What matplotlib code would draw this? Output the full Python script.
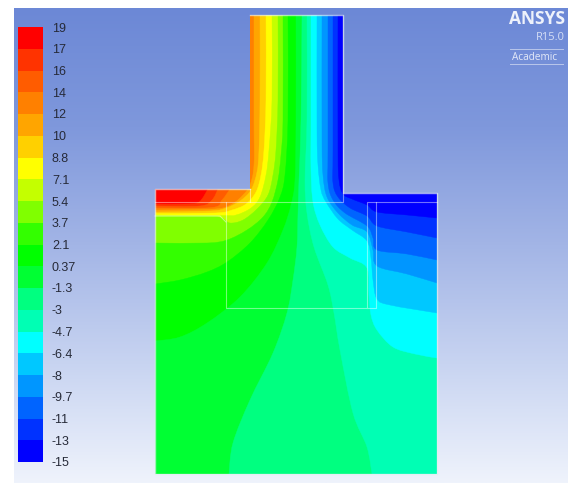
import numpy as np
import matplotlib
matplotlib.use('Agg')
import matplotlib.pyplot as plt
from matplotlib.colors import LinearSegmentedColormap
from matplotlib.path import Path
from matplotlib.patches import PathPatch

# legend
level_labels = ['19', '17', '16', '14', '12', '10', '8.8', '7.1', '5.4', '3.7', '2.1',
                '0.37', '-1.3', '-3', '-4.7', '-6.4', '-8', '-9.7', '-11', '-13', '-15']
band_colors = ['#ff0000', '#ff3300', '#ff5c00', '#ff8000', '#ffa500', '#ffd000', '#ffff00',
               '#c4ff00', '#80ff00', '#33ff00', '#00ff00', '#00ff33', '#00ff80', '#00ffb4',
               '#00ffff', '#00c8ff', '#0096ff', '#0064ff', '#0032ff', '#0000ff']
bg_colors = ['#6c88d6', '#7f98dc', '#a3b5e6', '#c8d4f1', '#eff3fc']

# domain outline, in picture pixels
domain_x = [249.5, 343, 343, 437, 437, 155, 155, 249.5]
domain_y = [15, 15, 193, 193, 474, 474, 189, 189]

# contour lines between neighbouring bands, hottest first
iso_0 = [(208, 189), (199, 202), (185, 204), (155, 204)]
iso_1 = [(218, 189), (212, 200), (200, 206), (155, 206)]
iso_2 = [(230, 189), (222, 200), (212, 207.5), (155, 208)]
iso_3 = [(254, 15), (254, 120), (254, 165), (250, 185), (243, 195), (232, 204), (215, 209), (155, 210)]
iso_4 = [(260, 15), (260, 100), (259, 150), (257, 172), (251, 190), (240, 201), (226, 208), (210, 211), (155, 212)]
iso_5 = [(266, 15), (266, 100), (264, 150), (261, 175), (256, 192), (246, 204), (232, 210), (215, 213), (155, 213.5)]
iso_6 = [(272, 15), (272, 100), (269, 150), (266, 175), (260, 197), (251, 208), (236, 215), (222, 215.5), (155, 215)]
iso_7 = [(278, 15), (278, 100), (276, 150), (273, 175), (268, 195), (257, 209), (243, 220), (230, 223), (222, 218), (210, 216.5), (155, 216.5)]
iso_8 = [(283, 15), (283, 120), (281, 155), (278, 180), (272, 202), (263, 217), (247, 230), (227, 240), (207, 243), (155, 243)]
iso_9 = [(288, 15), (288, 120), (285, 175), (280, 197), (268, 220), (250, 243), (227, 262), (207, 272), (180, 280), (155, 284)]
iso_10 = [(296, 15), (296, 120), (295, 180), (291, 205), (283, 230), (267, 263), (240, 297), (207, 323), (180, 337), (155, 341)]
iso_11 = [(302, 15), (301, 120), (299, 180), (298, 213), (297, 247), (293, 280), (287, 313), (273, 353), (250, 400), (233, 443), (229, 474)]
iso_12 = [(307, 15), (307, 120), (305, 180), (307, 213), (314, 247), (328, 285), (334, 313), (340, 350), (353, 413), (367, 447), (372, 474)]
iso_13 = [(311, 15), (311, 130), (311, 170), (313, 202), (320, 225), (333, 247), (350, 258), (367, 268), (369, 295), (371, 315), (377, 330), (393, 347), (415, 354), (437, 358)]
iso_14 = [(317, 15), (317, 130), (318, 165), (321, 190), (326, 202), (338, 219), (352, 230), (367, 241), (371, 258), (373, 280), (377, 299), (390, 305), (437, 313)]
iso_15 = [(322, 15), (322, 140), (323, 175), (327, 197), (338, 213), (352, 225), (367, 232), (373, 250), (377, 266), (407, 274), (437, 283)]
iso_16 = [(328, 15), (328, 150), (328, 183), (333, 200), (345, 213), (367, 226), (373, 238), (377, 250), (407, 254), (437, 260)]
iso_17 = [(333, 15), (333, 150), (333, 183), (338, 197), (350, 208), (367, 216), (377, 226), (407, 232), (437, 238)]
iso_18 = [(338, 15), (338, 150), (339, 180), (343, 194), (352, 199), (367, 205), (377, 212), (407, 215), (437, 218)]
iso_lines = [iso_0, iso_1, iso_2, iso_3, iso_4, iso_5, iso_6, iso_7, iso_8, iso_9,
             iso_10, iso_11, iso_12, iso_13, iso_14, iso_15, iso_16, iso_17, iso_18]


def smooth_path(pts):
    # catmull-rom through the points, as bezier segments
    pts = np.array(pts, dtype=float)
    verts = [pts[0]]
    codes = [Path.MOVETO]
    for i in range(len(pts) - 1):
        p0 = pts[max(i - 1, 0)]
        p1 = pts[i]
        p2 = pts[i + 1]
        p3 = pts[min(i + 2, len(pts) - 1)]
        verts += [p1 + (p2 - p0) / 6, p2 - (p3 - p1) / 6, p2]
        codes += [Path.CURVE4] * 3
    return verts, codes


def colder_side(pts):
    # region right of / below the line, closed far outside the domain
    verts, codes = smooth_path(pts)
    sx, sy = pts[0]
    ex, ey = pts[-1]
    if ex <= 155:
        tail = [(0, ey), (0, 600), (600, 600), (600, 0)]
    elif ey >= 474:
        tail = [(ex, 600), (600, 600), (600, 0)]
    else:
        tail = [(600, ey), (600, 0)]
    tail += [(sx, 0), (sx, sy), (sx, sy)]
    verts = verts + tail
    codes = codes + [Path.LINETO] * (len(tail) - 1) + [Path.CLOSEPOLY]
    return Path(verts, codes)


fig = plt.figure(figsize=(5.68, 4.83), dpi=100, facecolor='white')
ax = fig.add_axes([0, 0, 1, 1])
ax.axis('off')

# background gradient
bg_cmap = LinearSegmentedColormap.from_list('bg', bg_colors)
ax.imshow(np.linspace(0, 1, 256)[:, None], cmap=bg_cmap, extent=(14, 568, 483, 8), aspect='auto', zorder=0)
ax.set_xlim(0, 568)
ax.set_ylim(483, 0)

# contour bands clipped to the domain
clip = PathPatch(Path(list(zip(domain_x, domain_y)) + [(domain_x[0], domain_y[0])], closed=True),
                 transform=ax.transData, facecolor=band_colors[0], edgecolor='none', zorder=1)
ax.add_patch(clip)
for k, line in enumerate(iso_lines):
    band = PathPatch(colder_side(line), facecolor=band_colors[k + 1], edgecolor=band_colors[k + 1], lw=0.3, zorder=2)
    ax.add_patch(band)
    band.set_clip_path(clip)

# mesh zone outlines
ax.plot(domain_x, domain_y, color='#e4eef0', lw=1.0, alpha=0.7, zorder=3)
line_style = dict(color='white', lw=0.8, alpha=0.45, zorder=3)
ax.plot([249.5, 249.5, 343, 343], [189, 202, 202, 193], **line_style)
ax.plot([155, 226, 226, 376, 376, 367, 367], [202, 202, 308, 308, 202, 202, 308], **line_style)
ax.plot([226, 249.5], [202, 202], **line_style)
ax.plot([376, 437], [202, 202], **line_style)
ax.plot([155, 220, 226], [216, 216, 222], **line_style)

# colour legend
n_bands = len(band_colors)
edges = np.linspace(27, 462, n_bands + 1)
ax.bar(np.full(n_bands, 30.3), np.diff(edges), width=24.5, bottom=edges[:-1], color=band_colors, lw=0, zorder=2)
for lab, y in zip(level_labels, edges):
    ax.text(52, y + 1.5, lab, fontsize=9, family='Liberation Sans', color='#262a38', va='center', ha='left', zorder=4)

# logo
ax.text(565, 19, 'ANSYS', fontsize=12.5, family='Open Sans', weight='bold', color='#eef2fb', ha='right', va='center', zorder=4)
ax.text(565, 37.5, 'R15.0', fontsize=8, family='Open Sans', color='#d5def5', ha='right', va='center', zorder=4)
ax.text(535, 57, 'Academic', fontsize=7.2, family='Open Sans', color='#e3e9f8', ha='center', va='center', zorder=4)
ax.plot([510, 563], [49, 49], color='white', lw=0.7, alpha=0.5, zorder=4)
ax.plot([510, 563], [64, 64], color='white', lw=0.7, alpha=0.5, zorder=4)

plt.savefig('out.png', dpi=100)
